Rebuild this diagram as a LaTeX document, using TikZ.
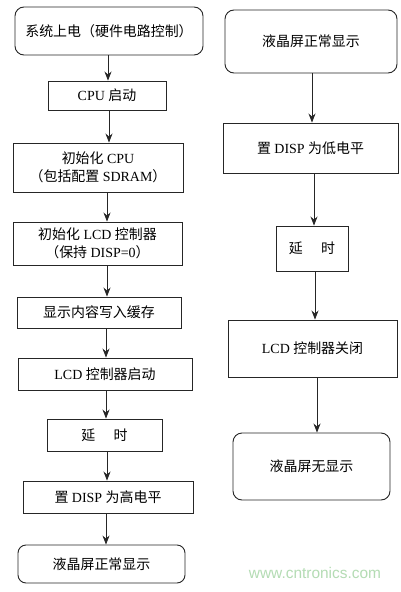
\documentclass[tikz,border=0pt]{standalone}
\usepackage{fontspec}
\setmainfont{Liberation Serif}
\newfontfamily\cjk{Noto Sans CJK SC}
\newfontfamily\wmfont{Liberation Sans}
\usetikzlibrary{arrows.meta}
\definecolor{wm}{RGB}{180,220,180}
\begin{document}
\begin{tikzpicture}[x=1bp,y=-1bp,
  box/.style={draw=black!85, line width=0.9bp, inner sep=0pt, align=center, font=\fontsize{14}{18}\selectfont},
  rbox/.style={box, rounded corners=9bp},
  arr/.style={draw=black!85, line width=0.8bp, -{Stealth[length=9bp,width=7bp]}}]
\useasboundingbox (0,0) rectangle (400,592);
\fill[white] (0,0) rectangle (400,592);
% left column
\node[rbox, minimum width=188bp, minimum height=48bp] (b1) at (109,31) {{\cjk 系统上电（硬件电路控制）}};
\node[box, minimum width=118bp, minimum height=29bp] (b2) at (107,95.5) {CPU {\cjk 启动}};
\node[box, minimum width=170bp, minimum height=49bp] (b3) at (98,167.5) {{\cjk 初始化} CPU\\{\cjk （包括配置} SDRAM{\cjk ）}};
\node[box, minimum width=169bp, minimum height=43bp] (b4) at (97.5,243.5) {{\cjk 初始化} LCD {\cjk 控制器}\\{\cjk （保持} DISP=0{\cjk ）}};
\node[box, minimum width=164bp, minimum height=31bp] (b5) at (99,312.5) {{\cjk 显示内容写入缓存}};
\node[box, minimum width=174bp, minimum height=32bp] (b6) at (105,374) {LCD {\cjk 控制器启动}};
\node[box, minimum width=115bp, minimum height=32bp] (b7) at (104.5,435) {{\cjk 延\hspace{1.3em}时}};
\node[box, minimum width=170bp, minimum height=32bp] (b8) at (108,497) {{\cjk 置} DISP {\cjk 为高电平}};
\node[rbox, rounded corners=8bp, minimum width=167bp, minimum height=38bp] (b9) at (101.5,564) {{\cjk 液晶屏正常显示}};
% right column
\node[rbox, minimum width=172bp, minimum height=63bp] (r1) at (311,41.5) {{\cjk 液晶屏正常显示}};
\node[box, minimum width=175bp, minimum height=50bp] (r2) at (310.5,148) {{\cjk 置} DISP {\cjk 为低电平}};
\node[box, minimum width=72bp, minimum height=45bp] (r3) at (312,248.5) {{\cjk 延\hspace{1.3em}时}};
\node[box, minimum width=169bp, minimum height=57bp] (r4) at (312.5,348.5) {LCD {\cjk 控制器关闭}};
\node[rbox, minimum width=157bp, minimum height=67bp] (r5) at (311.5,466.5) {{\cjk 液晶屏无显示}};
% arrow x positions
\coordinate (xa) at (108,0);
\coordinate (xb) at (109,0);
\coordinate (xc) at (107,0);
\coordinate (xd) at (106,0);
\coordinate (xe) at (312,0);
\coordinate (xf) at (314,0);
\coordinate (xg) at (315,0);
\coordinate (xh) at (317,0);
\draw[arr] (b1.south -| xa) -- (b2.north -| xa);
\draw[arr] (b2.south -| xb) -- (b3.north -| xb);
\draw[arr] (b3.south -| xc) -- (b4.north -| xc);
\draw[arr] (b4.south -| xc) -- (b5.north -| xc);
\draw[arr] (b5.south -| xd) -- (b6.north -| xd);
\draw[arr] (b6.south -| xd) -- (b7.north -| xd);
\draw[arr] (b7.south -| xc) -- (b8.north -| xc);
\draw[arr] (b8.south -| xd) -- (b9.north -| xd);
\draw[arr] (r1.south -| xe) -- (r2.north -| xe);
\draw[arr] (r2.south -| xf) -- (r3.north -| xf);
\draw[arr] (r3.south -| xg) -- (r4.north -| xg);
\draw[arr] (r4.south -| xh) -- (r5.north -| xh);
% watermark
\node[text=wm, font=\wmfont\fontsize{15.5}{18}\selectfont, inner sep=0pt] (wm) at (315,573) {www.cntronics.com};
\end{tikzpicture}
\end{document}
